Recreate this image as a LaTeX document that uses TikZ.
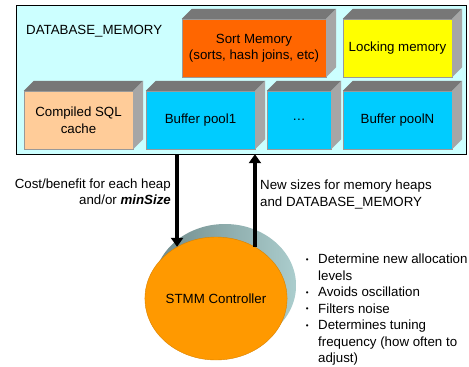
\documentclass[tikz,border=0pt]{standalone}
\usepackage{fontspec}
\setmainfont{Liberation Sans}
\usetikzlibrary{arrows.meta,shapes.geometric,shadows}
\definecolor{MemBack}{HTML}{CCFFFF}
\definecolor{SortOrange}{HTML}{FF6600}
\definecolor{LockYellow}{HTML}{FFFF00}
\definecolor{SqlPeach}{HTML}{FFCC99}
\definecolor{PoolBlue}{HTML}{00CCFF}
\definecolor{CtrlOrange}{HTML}{FF9900}
\definecolor{FaceTop}{HTML}{777777}
\definecolor{FaceSide}{HTML}{A6A6A6}
\definecolor{ShadowDark}{HTML}{6F8A8A}
\definecolor{ShadowLight}{HTML}{ABCDCD}
\newcommand\notebullet{\raisebox{1.6pt}{\fontsize{8}{8}\selectfont\textbullet}}
\tikzset{
  heap/.style={draw=gray!80,thin,minimum height=58pt,align=center,inner sep=2pt},
  bigarrow/.style={line width=3.5pt,-{Triangle[length=9pt,width=12pt]}},
}

\begin{document}
\begin{tikzpicture}[x=1pt,y=-1pt,font=\fontsize{13.3}{16.5}\selectfont]
\useasboundingbox (0,0) rectangle (469,367);
\node[draw,thin,fill=MemBack,minimum width=450pt,minimum height=149pt,inner sep=0] (mem) at (241,79.5) {};
\node[anchor=west,inner sep=0] (memlabel) at (26,31) {DATABASE\_MEMORY};
% memory heaps
\node[heap,fill=SortOrange,minimum width=144pt] (sort) at (254,48) {Sort Memory\\(sorts, hash joins, etc)};
\node[heap,fill=LockYellow,minimum width=109pt] (lock) at (397.5,48) {Locking memory};
\node[heap,fill=SqlPeach,minimum width=109pt] (sql) at (78.5,120) {Compiled SQL\\cache};
\node[heap,fill=PoolBlue,minimum width=109pt] (pool1) at (200.5,120) {Buffer pool1};
\node[heap,fill=PoolBlue,minimum width=64pt] (dots) at (299,120) {\dots};
\node[heap,fill=PoolBlue,minimum width=109pt] (poolN) at (397.5,120) {Buffer poolN};
\foreach \n in {sort,lock,sql,pool1,dots,poolN}{
  \fill[FaceTop] (\n.north west) -- ++(10,-10) -- ([shift={(10,-10)}]\n.north east) -- (\n.north east) -- cycle;
  \fill[FaceSide] (\n.north east) -- ++(10,-10) -- ([shift={(10,-10)}]\n.south east) -- (\n.south east) -- cycle;
}
% controller
\node[ellipse,fill=CtrlOrange,draw=CtrlOrange!85!black,thin,minimum width=140pt,minimum height=123pt,inner sep=0,
  general shadow={shadow xshift=9pt,shadow yshift=13pt,left color=ShadowDark,right color=ShadowLight}] (ctrl) at (216,298.5) {STMM Controller};
\draw[bigarrow] (ctrl.127 |- mem.south) -- (ctrl.127);
\draw[bigarrow] (ctrl.53) -- (ctrl.53 |- mem.south);
\node[anchor=east,align=right,inner sep=0] (costlbl) at (171,191.5) {Cost/benefit for each heap\\and/or \textbf{\textit{minSize}}};
\node[anchor=west,align=left,inner sep=0] (sizelbl) at (260,194.5) {New sizes for memory heaps\\and DATABASE\_MEMORY};
\node[anchor=north west,inner sep=0] (notes) at (305.6,252) {%
  \begin{tabular}{@{}l@{\hspace{9.6pt}}l@{}}
  \notebullet & Determine new allocation\\
   & levels\\
  \notebullet & Avoids oscillation\\
  \notebullet & Filters noise\\
  \notebullet & Determines tuning\\
   & frequency (how often to\\
   & adjust)
  \end{tabular}};
\end{tikzpicture}
\end{document}
